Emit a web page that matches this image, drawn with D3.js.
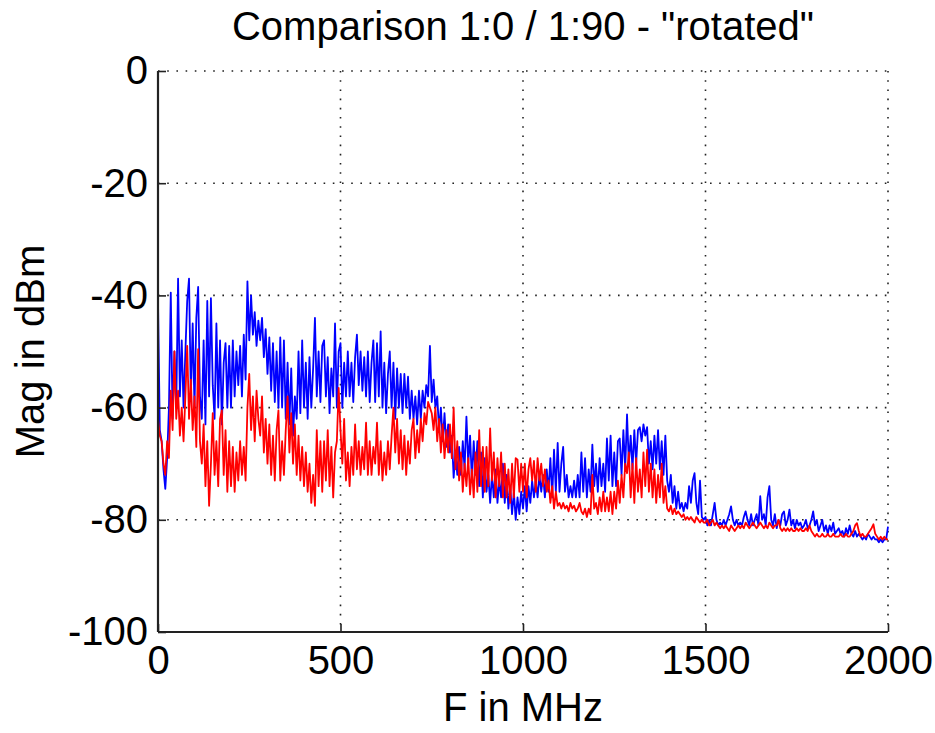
<!DOCTYPE html>
<html lang="en">

<head>
  <meta charset="UTF-8" />
  <title>Comparison 1:0 / 1:90 - rotated</title>
  <script src="https://cdn.jsdelivr.net/npm/d3@7/dist/d3.min.js"></script>
  <style>
    body {
      margin: 0;
      background: #fff;
    }

    text {
      font-family: "Liberation Sans", Arial, sans-serif;
      fill: #000;
    }
  </style>
</head>

<body>

  <div id="chart"></div>

  <script>
    // chart text
    var title = 'Comparison 1:0 / 1:90 - "rotated"';
    var xLabel = "F in MHz";
    var yLabel = "Mag in dBm";
    var xTicks = [0, 500, 1000, 1500, 2000];
    var yTicks = [0, -20, -40, -60, -80, -100];

    // frequency grid of the sweep (MHz), one sample every 5 MHz
    var freqMHz = d3.range(0, 2001, 5);

    var magBlue = [
      -41, -64, -66, -71, -74.5, -69, -60, -39.5, -62, -50, -60, -37, -58, -48, -60, -50, -41, -37, -58, -45,
      -60, -44, -38.5, -58, -62, -48, -63, -41, -58, -40.5, -56, -62, -45, -60, -48, -63, -52, -48.5, -60, -49,
      -60, -48, -58, -50, -56, -49, -58, -47, -55, -37.5, -48, -40, -47, -43, -49, -44.5, -48, -44, -51, -46,
      -54, -47.5, -57, -48.5, -59, -50, -60, -47.5, -60, -48, -62, -52, -63, -53, -65, -58, -62, -50, -61, -48,
      -60, -52, -62, -51, -60, -53, -44, -58, -50, -59, -49, -48, -58, -51, -61, -53, -58, -45, -60, -50,
      -48.5, -60, -52, -58, -50, -58, -52, -59, -51, -47, -56, -50, -57, -51, -58, -50, -59, -52, -48, -59,
      -48.5, -58, -46.4, -60, -52, -61, -54, -50, -60, -52, -62, -53, -60, -54, -61, -54, -60, -54.5, -62, -57,
      -62, -58, -63, -57, -62, -57, -60, -56, -58, -49, -59, -55, -60, -58, -64, -60, -66, -61, -67, -63,
      -68, -65, -72.5, -68, -72, -67, -72, -66, -71, -61.6, -70, -65, -73, -66, -72, -66, -74, -68, -76, -69,
      -75, -72, -77, -72, -76, -71, -77, -73, -76, -70, -77, -72, -78, -74, -79, -75, -80, -76, -79, -75,
      -78, -74, -78.5, -74, -77, -73, -76, -73, -76, -72, -75, -72, -76, -71, -75, -69, -76, -67.5, -75, -66.3,
      -75, -70, -67, -75, -72, -76, -74, -76, -73, -76, -72, -76, -68, -75, -69, -76, -71, -75, -66.6, -74,
      -70, -75, -69, -74, -70, -75, -65.5, -73, -65, -74, -68, -74, -66, -65.5, -72, -64, -71, -61.2, -70, -65,
      -71, -64, -70, -64, -63.5, -66, -63, -65, -63.5, -70, -66, -71, -65, -70, -64, -71, -66, -72, -65, -73,
      -75, -72, -77, -74, -78, -75, -78, -77, -78.5, -77, -78, -74, -77, -73, -71.7, -77, -79, -73, -79.5, -80,
      -79.5, -81, -80, -81, -79, -77, -80, -81, -80.5, -81, -80, -81, -80, -79, -77.6, -80, -81, -80, -81, -80.5,
      -81, -79.5, -78.5, -80, -81, -79, -81, -80, -79, -81, -75.8, -80, -79, -81, -76, -74, -80, -81, -79, -81.5,
      -80, -81, -79, -78.5, -81, -80, -78.2, -81, -80, -81.5, -80, -81, -80.5, -81.5, -81, -80, -81.5, -81, -80, -78.5,
      -81, -80, -82, -81, -80, -82, -81, -82.5, -81, -82, -80.5, -82.5, -82, -81.5, -82.5, -82, -83, -81.5, -82.5, -81,
      -82.5, -83, -82, -83, -82.5, -83, -83.5, -83, -83.5, -82.5, -83, -83.5, -83, -83.5, -83.5, -84, -83.5, -84, -83.5, -83.5,
      -81.2
    ];

    var magRed = [
      -62, -65, -66, -70, -72, -66, -69, -57, -64, -50, -62, -57, -65, -60, -66, -58, -49, -62, -55, -64,
      -58, -67, -49.6, -66, -70, -63, -74, -66, -77.5, -70, -61, -72, -66, -74, -62, -60.5, -72, -64, -75, -66,
      -74, -67, -75, -68, -73, -66, -72, -67, -73, -60, -54, -64, -58, -66, -57, -62, -65, -58, -68, -62,
      -70, -63, -72, -65, -73, -64, -60.5, -73, -66, -72, -64, -58, -68, -61, -70, -63, -72, -65, -73, -67,
      -74, -68, -75, -70, -77, -72, -77.5, -64, -74, -66, -75, -66, -73, -64, -74, -67, -76, -68, -66, -56.5,
      -64, -70, -62, -73, -68, -74, -67, -72, -63, -71, -66, -72, -67, -71, -62.7, -72, -66, -72, -67, -70,
      -62.7, -72, -66, -73, -68, -72, -66, -71, -65, -60, -68, -62, -70, -64, -71, -65, -72, -66, -70, -64,
      -62, -69, -64, -68, -62, -66, -61, -63, -59, -60, -61, -64, -60, -66, -62, -68, -63, -69, -64, -68,
      -63, -69, -60, -71, -66, -73, -68, -75, -70, -74, -69, -75.5, -71, -76, -68, -75, -64, -74, -67, -75,
      -67, -74, -63.7, -73, -68, -76, -69, -74, -68, -76, -70, -76, -71, -77, -70, -76, -69, -69.3, -75, -70,
      -75, -70, -76, -71, -69, -73, -69.5, -75, -69, -73, -70, -74, -71, -75, -73, -77, -74, -78, -75, -77.5,
      -77, -78, -77, -78, -77.5, -78.5, -77, -78, -77.5, -78.5, -78, -77, -78.5, -79, -78, -79.5, -78, -79, -72, -78,
      -77, -79, -76, -78.5, -75, -78.5, -76, -78.5, -75, -79, -75, -78, -73, -77, -72, -76, -70, -71.7, -68, -76,
      -70, -77, -69, -75, -71, -76, -68, -74, -67.5, -75, -70, -76, -71, -77, -72, -76, -70, -77, -74, -78,
      -78.5, -77.5, -79, -78, -79, -78.5, -79, -79.5, -79, -80, -79.5, -80, -79.5, -80, -80.5, -79.5, -80, -80.5, -80, -80.5,
      -80.5, -80, -81, -80.5, -80, -81, -80.5, -81, -81.5, -81, -81.5, -81, -81.5, -82, -81, -81.5, -82, -81.5, -81, -81.5,
      -81, -81.5, -80.5, -81, -81.5, -81, -80.5, -81, -81.5, -81, -80.5, -81, -81.5, -81, -81.5, -80.5, -81, -81.5, -81, -81,
      -80, -81.5, -82, -81.5, -82, -81.5, -82, -81.5, -82, -82, -81.5, -82, -81.5, -82, -82, -81.5, -82, -81, -82, -82.5,
      -83, -82.5, -83, -83, -82.5, -83, -83, -82.5, -83, -83, -82.5, -83, -83, -83, -82.5, -83, -83, -82.5, -83, -83,
      -82.5, -82, -81, -80.6, -82, -83, -82.5, -83, -83, -82.5, -82, -81.5, -80.8, -82.5, -83, -83.5, -83, -83.5, -83, -83.5,
      -83.5
    ];

    var W = 935;
    var H = 733;
    var margin = { top: 71, right: 47, bottom: 101, left: 158 };
    var w = W - margin.left - margin.right;
    var h = H - margin.top - margin.bottom;
    var fontSize = "40px";

    var svg = d3.select("#chart")
      .append("svg")
      .attr("width", W)
      .attr("height", H);

    var g = svg.append("g")
      .attr("transform", "translate(" + margin.left + "," + margin.top + ")");

    var x = d3.scaleLinear().domain([0, 2000]).range([0, w]);
    var y = d3.scaleLinear().domain([-100, 0]).range([h, 0]);

    // dotted grid
    g.selectAll(".vgrid")
      .data(xTicks.filter(function(d) { return d > 0; }))
      .enter()
      .append("line")
      .attr("class", "vgrid")
      .attr("x1", function(d) { return x(d); })
      .attr("x2", function(d) { return x(d); })
      .attr("y1", 0)
      .attr("y2", h)
      .attr("stroke", "#222")
      .attr("stroke-width", 1.6)
      .attr("stroke-dasharray", "1.6,7.6");

    g.selectAll(".hgrid")
      .data(yTicks.filter(function(d) { return d > -100; }))
      .enter()
      .append("line")
      .attr("class", "hgrid")
      .attr("x1", 0)
      .attr("x2", w)
      .attr("y1", function(d) { return y(d); })
      .attr("y2", function(d) { return y(d); })
      .attr("stroke", "#222")
      .attr("stroke-width", 1.6)
      .attr("stroke-dasharray", "1.6,7.6");

    // traces
    var line = d3.line()
      .x(function(d, i) { return x(freqMHz[i]); })
      .y(function(d) { return y(d); });

    g.append("path")
      .datum(magBlue)
      .attr("d", line)
      .attr("fill", "none")
      .attr("stroke", "#0000ff")
      .attr("stroke-width", 1.8)
      .attr("stroke-linejoin", "round");

    g.append("path")
      .datum(magRed)
      .attr("d", line)
      .attr("fill", "none")
      .attr("stroke", "#ff0000")
      .attr("stroke-width", 1.8)
      .attr("stroke-linejoin", "round");

    // axes (plain hyphen-minus, no thousands separator)
    var plain = function(d) { return String(d); };
    var xAxis = d3.axisBottom(x).tickValues(xTicks).tickFormat(plain).tickSize(-8).tickPadding(14);
    var yAxis = d3.axisLeft(y).tickValues(yTicks).tickFormat(plain).tickSize(-8).tickPadding(10);

    var gx = g.append("g")
      .attr("transform", "translate(0," + h + ")")
      .call(xAxis);
    var gy = g.append("g")
      .call(yAxis);

    [gx, gy].forEach(function(ax) {
      ax.select(".domain").attr("stroke", "#222").attr("stroke-width", 2.2);
      ax.selectAll(".tick line").attr("stroke", "#222").attr("stroke-width", 1.6);
      ax.selectAll(".tick text")
        .attr("fill", "#000")
        .style("font-size", fontSize)
        .style("font-family", "'Liberation Sans', Arial, sans-serif");
    });

    // only left and bottom axis lines, no end caps
    gx.select(".domain").attr("d", "M0,0H" + w);
    gy.select(".domain").attr("d", "M0," + h + "V0");

    // titles
    svg.append("text")
      .attr("x", margin.left + w / 2)
      .attr("y", 40)
      .attr("text-anchor", "middle")
      .style("font-size", fontSize)
      .text(title);

    svg.append("text")
      .attr("x", margin.left + w / 2)
      .attr("y", 721)
      .attr("text-anchor", "middle")
      .style("font-size", fontSize)
      .text(xLabel);

    svg.append("text")
      .attr("transform", "translate(44," + (margin.top + h / 2) + ") rotate(-90)")
      .attr("text-anchor", "middle")
      .style("font-size", fontSize)
      .text(yLabel);
  </script>

</body>

</html>
